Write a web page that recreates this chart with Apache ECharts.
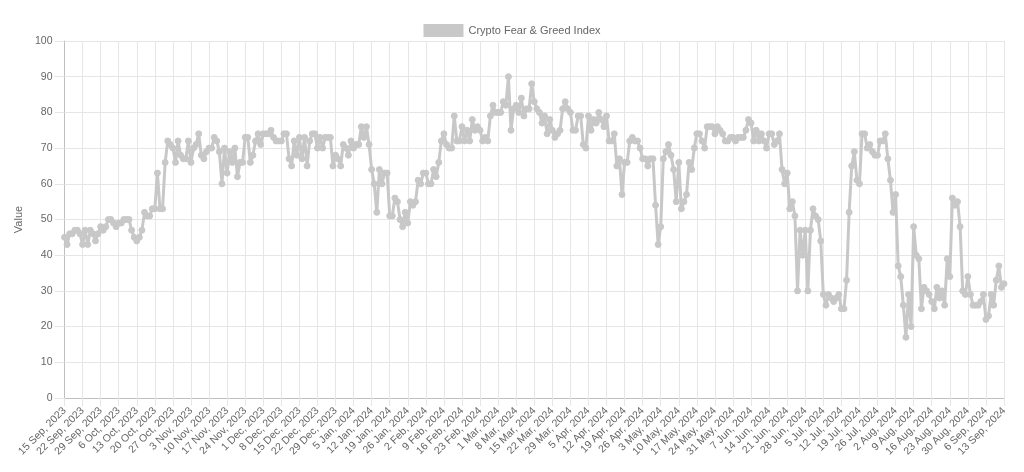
<!DOCTYPE html>
<html>
<head>
<meta charset="utf-8">
<script src="https://cdn.jsdelivr.net/npm/echarts@6/dist/echarts.min.js"></script>
<style>
html,body{margin:0;padding:0;background:#fff;}
#chart{width:1024px;height:472px;}
</style>
</head>
<body>
<div id="chart"></div>
<script>
// Daily series, 15 Sep 2023 .. 13 Sep 2024 (one row per week)
const startDate = [2023, 8, 15];
const dayCount = 365;
const fearGreedValues = [
  45,43,46,46,47,47,46,
  43,47,43,47,46,44,46,
  48,47,48,50,50,49,48,
  49,49,50,50,50,47,45,
  44,45,47,52,51,51,53,
  53,63,53,53,66,72,71,
  70,66,72,68,67,67,72,
  66,70,71,74,68,67,69,
  70,70,73,72,69,60,70,
  63,69,66,70,62,66,66,
  73,73,66,68,72,74,71,
  74,74,74,75,73,72,72,
  72,74,74,67,65,72,68,
  73,67,73,65,72,74,74,
  70,73,70,73,73,73,65,
  68,67,65,71,70,68,72,
  70,71,71,76,73,76,71,
  64,60,52,64,60,63,63,
  51,51,56,55,50,48,52,
  49,55,54,55,61,60,63,
  63,60,60,64,62,66,72,
  74,71,70,70,79,72,72,
  76,72,75,72,78,75,76,
  75,72,73,72,79,82,80,
  80,80,83,82,90,75,81,
  82,80,84,79,81,81,88,
  83,81,80,77,79,74,78,
  75,73,74,75,81,83,81,
  80,75,75,79,79,71,70,
  79,75,78,77,80,78,76,
  79,72,72,74,65,67,57,
  66,66,72,73,72,72,70,
  67,67,65,67,67,54,43,
  48,67,69,71,68,64,55,
  66,53,55,57,66,64,70,
  74,74,72,70,76,76,76,
  74,76,75,74,72,72,73,
  73,72,73,73,73,75,78,
  77,72,75,72,74,72,70,
  74,74,71,72,74,64,60,
  63,53,55,51,30,47,40,
  47,30,47,53,51,50,44,
  29,26,29,28,27,28,29,
  25,25,33,52,65,69,61,
  60,74,74,70,71,69,68,
  68,72,72,74,67,61,52,
  57,37,34,26,17,29,20,
  48,40,39,25,31,30,29,
  27,25,31,28,30,26,39,
  34,56,54,55,48,30,29,
  34,29,26,26,26,27,29,
  22,23,29,26,33,37,31,
  32
];
const monthNames = ['Jan','Feb','Mar','Apr','May','Jun','Jul','Aug','Sep','Oct','Nov','Dec'];
const seriesName = 'Crypto Fear & Greed Index';
const yAxisTitle = 'Value';

const categories = [];
for (let i = 0; i < dayCount; i++) {
  const d = new Date(Date.UTC(startDate[0], startDate[1], startDate[2] + i));
  categories.push(d.getUTCDate() + ' ' + monthNames[d.getUTCMonth()] + ', ' + d.getUTCFullYear());
}

const FONT = 'Liberation Sans, Arial, Helvetica, sans-serif';
const chart = echarts.init(document.getElementById('chart'), null, {renderer: 'canvas'});
chart.setOption({
  animation: false,
  textStyle: {fontFamily: FONT},
  legend: {
    top: 19,
    left: 'center',
    itemWidth: 40,
    itemHeight: 13,
    itemGap: 10,
    icon: 'rect',
    textStyle: {color: '#666', fontSize: 11, fontFamily: FONT},
    data: [seriesName]
  },
  grid: {left: 64.5, right: 20, top: 41, bottom: 74, containLabel: false},
  xAxis: {
    type: 'category',
    data: categories,
    boundaryGap: false,
    axisLine: {show: true, lineStyle: {color: '#bfbfbf', width: 1}},
    axisTick: {show: true, interval: 6, length: 8, lineStyle: {color: '#e6e6e6'}},
    splitLine: {show: true, interval: 6, lineStyle: {color: '#e6e6e6', width: 1}},
    axisLabel: {interval: 6, rotate: 45, color: '#666', fontSize: 10.5, margin: 11, fontFamily: FONT}
  },
  yAxis: {
    type: 'value',
    min: 0, max: 100, interval: 10,
    name: yAxisTitle,
    nameLocation: 'middle',
    nameGap: 27,
    nameTextStyle: {color: '#666', fontSize: 11, fontFamily: FONT},
    axisLine: {show: true, lineStyle: {color: '#bfbfbf', width: 1}},
    axisTick: {show: true, length: 10, lineStyle: {color: '#e6e6e6'}},
    splitLine: {show: true, lineStyle: {color: '#e6e6e6', width: 1}},
    axisLabel: {color: '#666', fontSize: 10.5, margin: 12, fontFamily: FONT}
  },
  series: [{
    name: seriesName,
    type: 'line',
    data: fearGreedValues,
    smooth: false,
    symbol: 'circle',
    symbolSize: 6,
    showSymbol: true,
    showAllSymbol: true,
    itemStyle: {color: '#c8c8c8', borderColor: '#c8c8c8'},
    lineStyle: {color: '#c8c8c8', width: 3},
    z: 3
  }]
});
</script>
</body>
</html>
